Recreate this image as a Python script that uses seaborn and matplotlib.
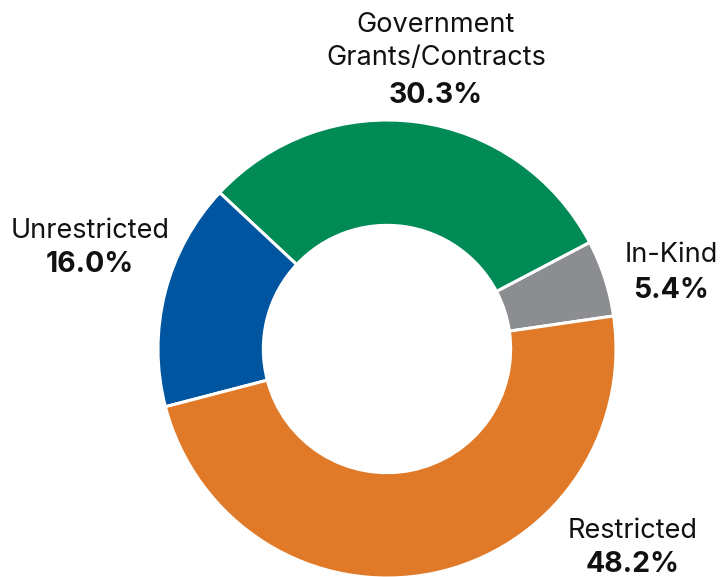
import matplotlib
matplotlib.use("Agg")
import matplotlib.pyplot as plt
import seaborn as sns

# data, counterclockwise from the right side
labels = ["In-Kind", "Government\nGrants/Contracts", "Unrestricted", "Restricted"]
shares = [5.4, 30.3, 16.0, 48.2]
colors = ["#8c8d90", "#008a55", "#0055a0", "#e07a28"]

sns.set_theme(style="white")
plt.rcParams['font.family'] = ['Inter', 'DejaVu Sans']

W, H = 721, 577
cx, cy, R = 387, 349, 229

fig = plt.figure(figsize=(W / 100, H / 100), dpi=100)
ax = fig.add_axes([0, 0, 1, 1])

ax.pie(shares, colors=colors, startangle=8.3, counterclock=True, radius=1.0,
       wedgeprops=dict(width=0.46, edgecolor="white", linewidth=2.2))


def px(x, y):
    # pixel position -> data units
    return (x - cx) / R, (cy - y) / R


# label anchors: x centre, baseline of last name line, baseline of value
anchors = {
    "In-Kind": (671, 262, 298),
    "Government\nGrants/Contracts": (436, 65, 103),
    "Unrestricted": (90, 238, 272),
    "Restricted": (633, 538, 572),
}
for lab, val in zip(labels, shares):
    x, yname, yval = anchors[lab]
    lines = lab.split("\n")
    for i, line in enumerate(reversed(lines)):
        ax.text(*px(x, yname - 33 * i), line, ha="center", va="baseline",
                fontsize=19.5, color="#111111")
    ax.text(*px(x, yval), f"{val:.1f}%", ha="center", va="baseline",
            fontsize=20.5, fontweight="bold", color="#111111")

ax.set_xlim(-cx / R, (W - cx) / R)
ax.set_ylim(-(H - cy) / R, cy / R)
ax.set_aspect("equal", adjustable="datalim")
ax.axis("off")

fig.savefig("out.png", dpi=100, facecolor="white")
